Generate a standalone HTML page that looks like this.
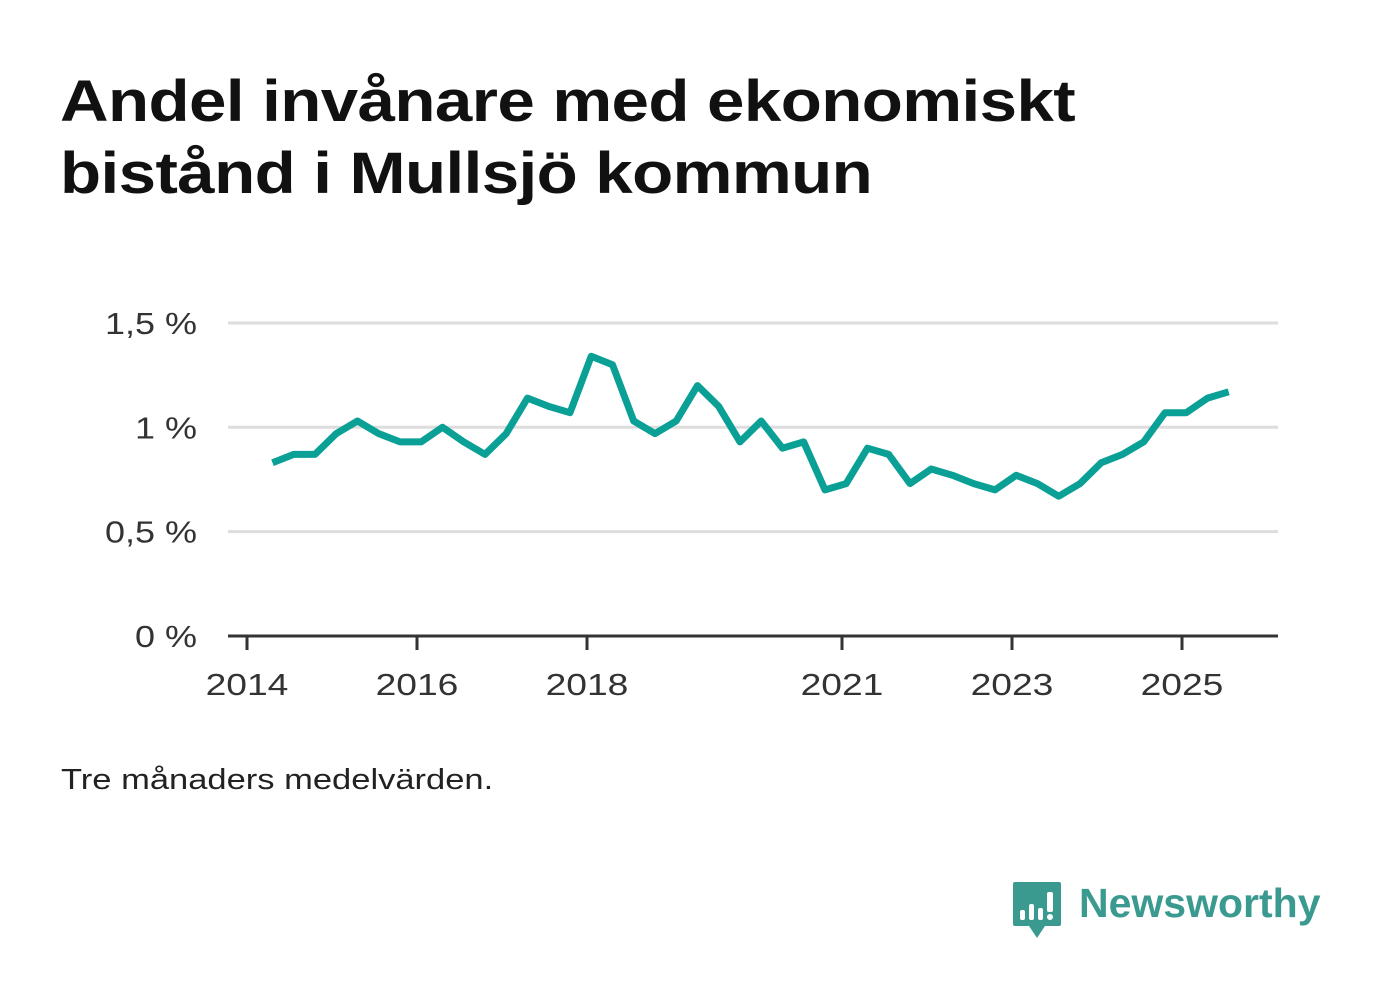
<!DOCTYPE html>
<html><head><meta charset="utf-8"><style>
body{margin:0;width:1382px;height:999px;background:#fff;font-family:"Liberation Sans",sans-serif;position:relative;overflow:hidden}
h1{position:absolute;left:60px;top:66px;margin:0;font-size:58px;line-height:72px;font-weight:bold;color:#111;letter-spacing:-0.5px;transform:scaleX(1.16);transform-origin:left top;white-space:nowrap}
.note{position:absolute;left:61px;top:764px;font-size:29px;color:#222;transform:scaleX(1.19);transform-origin:left top;white-space:nowrap}
svg text{font-family:"Liberation Sans",sans-serif}
</style></head><body>
<h1>Andel invånare med ekonomiskt<br>bistånd i Mullsjö kommun</h1>
<svg id="chart" width="1382" height="999" style="position:absolute;left:0;top:0"></svg>
<div class="note">Tre månaders medelvärden.</div>
<div style="position:absolute;left:1011px;top:880px;height:60px;display:flex;align-items:flex-start">
<svg width="52" height="60" viewBox="0 0 52 60"><path d="M4 2h44a2 2 0 0 1 2 2v40a2 2 0 0 1-2 2H34l-8 12-8-12H4a2 2 0 0 1-2-2V4a2 2 0 0 1 2-2z" fill="#3a9a90"/><rect x="9" y="30" width="5" height="10" rx="2" fill="#fff"/><rect x="18" y="24" width="5" height="16" rx="2" fill="#fff"/><rect x="27" y="28" width="5" height="12" rx="2" fill="#fff"/><rect x="36" y="12" width="6" height="20" rx="2" fill="#fff"/><circle cx="39" cy="37" r="3" fill="#fff"/></svg>
<span style="font-size:41px;font-weight:bold;color:#3a9a90;margin-left:16px;line-height:46px">Newsworthy</span>
</div>
<script>
const values=[0.83,0.87,0.87,0.97,1.03,0.97,0.93,0.93,1.00,0.93,0.87,0.97,1.14,1.10,1.07,1.34,1.30,1.03,0.97,1.03,1.20,1.10,0.93,1.03,0.90,0.93,0.70,0.73,0.90,0.87,0.73,0.80,0.77,0.73,0.70,0.77,0.73,0.67,0.73,0.83,0.87,0.93,1.07,1.07,1.14,1.17];
const startYear=2014.3, step=0.25;
const yTicks=[0,0.5,1,1.5];
const yLabels=["0 %","0,5 %","1 %","1,5 %"];
const xTicks=[2014,2016,2018,2021,2023,2025];
const NS="http://www.w3.org/2000/svg";
const svg=document.getElementById('chart');
const X=t=>247+(t-2014)*85;
const Y=v=>636-v*208.7;
function mk(tag,attrs){const e=document.createElementNS(NS,tag);for(const k in attrs)e.setAttribute(k,attrs[k]);svg.appendChild(e);return e;}
function widen(t,f){const w=t.getComputedTextLength();t.setAttribute('textLength',(w*f).toFixed(1));t.setAttribute('lengthAdjust','spacingAndGlyphs');}
yTicks.forEach((v,i)=>{
 if(v>0){const g=mk('line',{x1:228,x2:1278,y1:Y(v),y2:Y(v),stroke:'#ddd','stroke-width':3});
 
 }
 const t=mk('text',{x:197,y:Y(v)+11,'text-anchor':'end','font-size':31,fill:'#333'});t.textContent=yLabels[i];
 
 
 widen(t,1.16);
});
const ax=mk('line',{x1:228,x2:1278,y1:636,y2:636,stroke:'#333','stroke-width':3});


xTicks.forEach(yr=>{
 const l=mk('line',{x1:X(yr),x2:X(yr),y1:636,y2:650,stroke:'#333','stroke-width':3});
 
 
 const t=mk('text',{x:X(yr),y:695,'text-anchor':'middle','font-size':31,fill:'#333'});t.textContent=yr;
 
 
 widen(t,1.2);
});
const pts=values.map((v,i)=>X(startYear+i*step).toFixed(1)+','+Y(v).toFixed(1)).join(' ');
const line=mk('polyline',{points:pts,fill:'none',stroke:'#0aa096','stroke-width':7,'stroke-linejoin':'round'});


</script>
</body></html>
